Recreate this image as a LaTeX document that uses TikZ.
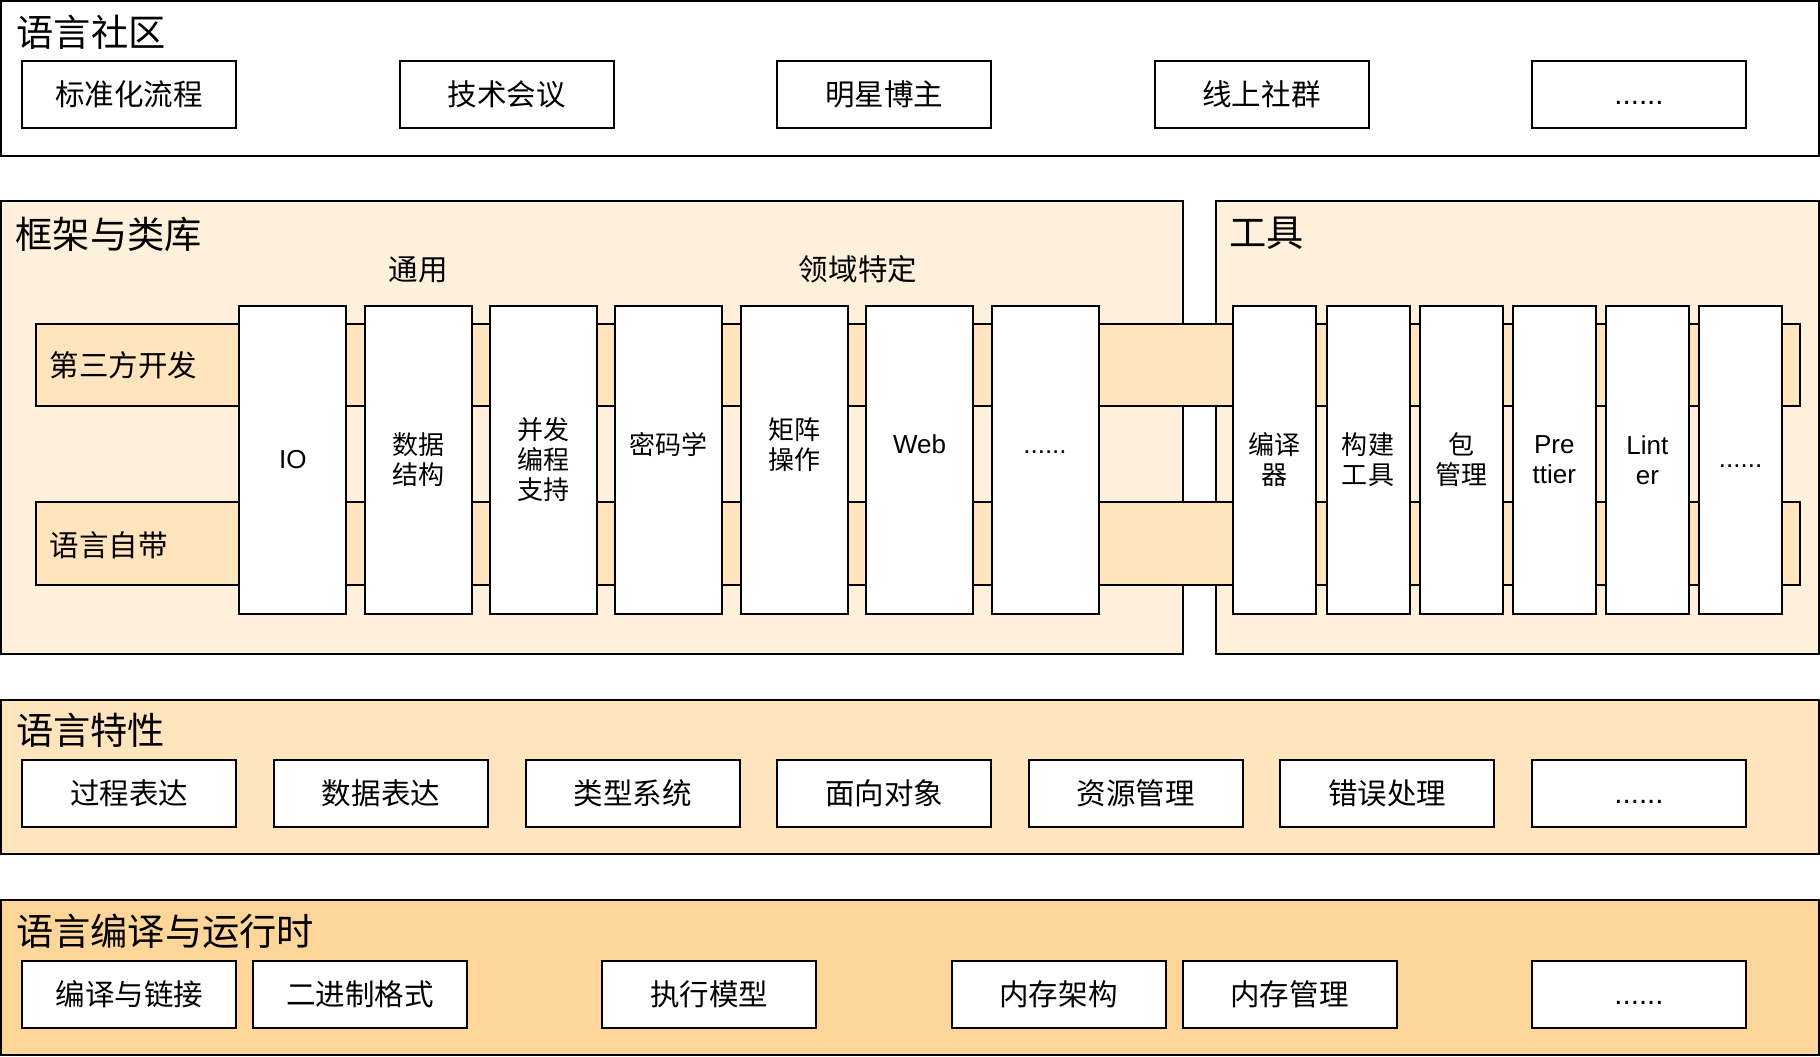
\documentclass[tikz,border=0pt]{standalone}
\usepackage{fontspec}
\setmainfont{Liberation Sans}
\newfontfamily\cjk{Noto Sans CJK SC}
\definecolor{frameBg}{HTML}{FFF0DC}
\definecolor{bandBg}{HTML}{FFE4BE}
\definecolor{rtBg}{HTML}{FFD699}

\begin{document}
\begin{tikzpicture}[x=1cm,y=-1cm,
    frame/.style={draw, line width=0.57pt},
    box/.style={frame, fill=white, minimum width=2.14cm, minimum height=0.67cm,
        inner sep=0pt, font=\cjk\fontsize{8.4}{10}\selectfont},
    col/.style={frame, fill=white, minimum height=3.08cm, inner sep=0pt,
        align=center, font=\cjk\fontsize{7.4}{8.54}\selectfont},
    fcol/.style={col, minimum width=1.07cm},
    tcol/.style={col, minimum width=0.83cm},
    clbl/.style={inner sep=0pt, align=center, font=\cjk\fontsize{7.4}{8.54}\selectfont},
    ttl/.style={anchor=west, inner sep=0pt, font=\cjk\fontsize{10.6}{12}\selectfont},
    sub/.style={inner sep=0pt, font=\cjk\fontsize{8.4}{10}\selectfont},
    en/.style={font=\fontsize{8.4}{10}\selectfont, text height=0.21cm, text depth=0pt},
    encol/.style={font=\fontsize{7.4}{8.54}\selectfont}]
    \useasboundingbox (0,0) rectangle (18.20,10.57);
    %语言社区
    \draw[frame] (0.01,0.01) rectangle (18.19,1.56);
    \node[ttl] (comm) at (0.16,0.32) {语言社区};
    \node[box] (std) at (1.292,0.943) {标准化流程};
    \node[box] (conf) at (5.066,0.943) {技术会议};
    \node[box] (star) at (8.841,0.943) {明星博主};
    \node[box] (online) at (12.615,0.943) {线上社群};
    \node[box, en] (more1) at (16.39,0.943) {......};
    %框架与类库, 工具
    \draw[frame, fill=frameBg] (0.01,2.01) rectangle (11.83,6.54);
    \draw[frame, fill=frameBg] (12.16,2.015) rectangle (18.19,6.54);
    \node[ttl] (lib) at (0.15,2.345) {框架与类库};
    \node[ttl] (tool) at (12.29,2.335) {工具};
    \node[sub] (general) at (4.18,2.70) {通用};
    \node[sub] (domain) at (8.58,2.69) {领域特定};
    %横条
    \draw[frame, fill=bandBg] (0.36,3.24) rectangle (18.00,4.06);
    \draw[frame, fill=bandBg] (0.36,5.02) rectangle (18.00,5.85);
    \node[sub, anchor=west] (third) at (0.49,3.65) {第三方开发};
    \node[sub, anchor=west] (builtin) at (0.49,5.45) {语言自带};
    %竖条
    \node[fcol, encol] (io) at (2.929,4.60) {IO};
    \node[fcol] (ds) at (4.182,4.60) {数据\\结构};
    \node[fcol] (conc) at (5.436,4.60) {并发\\编程\\支持};
    \node[fcol] (crypto) at (6.689,4.60) {};
    \node[fcol] (mat) at (7.943,4.60) {};
    \node[fcol] (web) at (9.196,4.60) {};
    \node[fcol] (more2) at (10.45,4.60) {};
    \node[clbl] (cryptot) at (6.689,4.445) {密码学};
    \node[clbl] (matt) at (7.943,4.445) {矩阵\\操作};
    \node[clbl, encol] (webt) at (9.196,4.445) {Web};
    \node[clbl, encol] (more2t) at (10.45,4.52) {......};
    \node[tcol] (comp) at (12.748,4.60) {编译\\器};
    \node[tcol] (build) at (13.680,4.60) {构建\\工具};
    \node[tcol] (pkg) at (14.611,4.60) {包\\管理};
    \node[tcol, encol] (pret) at (15.543,4.60) {Pre\\ttier};
    \node[tcol, encol] (lint) at (16.474,4.60) {Lint\\er};
    \node[tcol, encol, text height=0.16cm, text depth=0pt] (more3) at (17.406,4.60) {......};
    %语言特性
    \draw[frame, fill=bandBg] (0.01,7.00) rectangle (18.19,8.54);
    \node[ttl] (feat) at (0.155,7.305) {语言特性};
    \node[box] (proc) at (1.294,7.933) {过程表达};
    \node[box] (data) at (3.810,7.933) {数据表达};
    \node[box] (types) at (6.326,7.933) {类型系统};
    \node[box] (oop) at (8.842,7.933) {面向对象};
    \node[box] (res) at (11.358,7.933) {资源管理};
    \node[box] (err) at (13.874,7.933) {错误处理};
    \node[box, en] (more4) at (16.39,7.933) {......};
    %语言编译与运行时
    \draw[frame, fill=rtBg] (0.01,9.00) rectangle (18.19,10.555);
    \node[ttl] (rt) at (0.155,9.315) {语言编译与运行时};
    \node[box] (link) at (1.294,9.943) {编译与链接};
    \node[box] (bin) at (3.600,9.943) {二进制格式};
    \node[box] (exec) at (7.093,9.943) {执行模型};
    \node[box] (memarch) at (10.585,9.943) {内存架构};
    \node[box] (mem) at (12.895,9.943) {内存管理};
    \node[box, en] (more5) at (16.39,9.943) {......};
\end{tikzpicture}
\end{document}
